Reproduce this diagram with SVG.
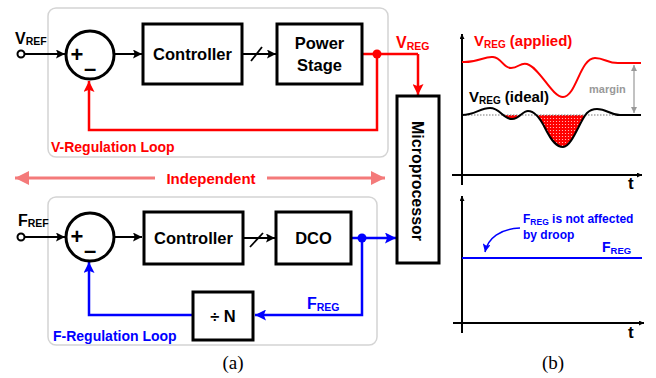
<svg xmlns="http://www.w3.org/2000/svg" width="656" height="378" viewBox="0 0 656 378">
<style>
  .t{font-family:"Liberation Sans",Arial,sans-serif;font-weight:bold}
  .box{fill:#fff;stroke:#000;stroke-width:3}
  .grp{fill:none;stroke:#d4d4d4;stroke-width:1.5}
  .blk{fill:none;stroke:#000;stroke-width:2}
  .red{fill:none;stroke:#ff0000;stroke-width:2.5}
  .blu{fill:none;stroke:#0000ff;stroke-width:2.5}
  .cap{font-family:"Liberation Serif","Times New Roman",serif;font-size:19px}
</style>
<defs>
  <marker id="aK" viewBox="0 0 10 10" refX="10" refY="5" markerWidth="5" markerHeight="5" orient="auto" markerUnits="userSpaceOnUse"><path d="M0,0 L10,5 L0,10 Z" fill="#000"/></marker>
  <marker id="aK2" viewBox="0 0 10 10" refX="10" refY="5" markerWidth="9" markerHeight="9" orient="auto" markerUnits="userSpaceOnUse"><path d="M0,0 L10,5 L0,10 L2,5 Z" fill="#000"/></marker>
  <marker id="aR" viewBox="0 0 10 10" refX="10" refY="5" markerWidth="11" markerHeight="11" orient="auto" markerUnits="userSpaceOnUse"><path d="M0,0 L10,5 L0,10 L2,5 Z" fill="#ff0000"/></marker>
  <marker id="aB" viewBox="0 0 10 10" refX="10" refY="5" markerWidth="11" markerHeight="11" orient="auto" markerUnits="userSpaceOnUse"><path d="M0,0 L10,5 L0,10 L2,5 Z" fill="#0000ff"/></marker>
  <marker id="aBs" viewBox="0 0 10 10" refX="10" refY="5" markerWidth="8" markerHeight="8" orient="auto" markerUnits="userSpaceOnUse"><path d="M0,0 L10,5 L0,10 L2,5 Z" fill="#0000ff"/></marker>
  <marker id="aG" viewBox="0 0 10 10" refX="10" refY="5" markerWidth="6" markerHeight="6" orient="auto-start-reverse" markerUnits="userSpaceOnUse"><path d="M0,0 L10,5 L0,10 Z" fill="#999"/></marker>
  <marker id="aP" viewBox="0 0 10 10" refX="10" refY="5" markerWidth="18" markerHeight="14" orient="auto-start-reverse" markerUnits="userSpaceOnUse"><path d="M0,0 L10,5 L0,10 Z" fill="#f47a7a"/></marker>
  <pattern id="dots" width="3" height="3" patternUnits="userSpaceOnUse">
    <rect width="3" height="3" fill="#ff0000"/>
    <circle cx="1.5" cy="1.5" r="0.6" fill="#ffd0d0"/>
  </pattern>
  <clipPath id="below"><rect x="462" y="115" width="180" height="40"/></clipPath>
</defs>

<!-- group boxes -->
<rect class="grp" x="48" y="8" width="340" height="149" rx="8"/>
<rect class="grp" x="48" y="197" width="329" height="148" rx="8"/>

<!-- connectors -->
<g id="connectors">
  <line class="blk" x1="24.5" y1="54" x2="65" y2="54" marker-end="url(#aK2)"/>
  <line class="blk" x1="114" y1="54" x2="142" y2="54" marker-end="url(#aK2)"/>
  <line class="blk" x1="242" y1="54" x2="276" y2="54" marker-end="url(#aK2)"/>
  <line x1="251" y1="61" x2="262" y2="47" stroke="#000" stroke-width="1.8"/>
  <line class="red" x1="362" y1="54" x2="418" y2="54"/>
  <line class="red" x1="418" y1="54" x2="418" y2="95" marker-end="url(#aR)"/>
  <polyline class="red" points="377,54 377,130 89,130 89,81" marker-end="url(#aR)"/>
  <circle cx="377" cy="54" r="4.5" fill="#ff0000"/>
  <line class="blk" x1="24.5" y1="237" x2="65" y2="237" marker-end="url(#aK2)"/>
  <line class="blk" x1="114" y1="237" x2="142" y2="237" marker-end="url(#aK2)"/>
  <line class="blk" x1="242" y1="238" x2="275" y2="238" marker-end="url(#aK2)"/>
  <line x1="250" y1="247" x2="263" y2="233" stroke="#000" stroke-width="1.8"/>
  <line class="blu" x1="351" y1="238" x2="396" y2="238" marker-end="url(#aB)"/>
  <polyline class="blu" points="397,230.5 408,238 397,245.5" stroke-linejoin="miter"/>
  <polyline class="blu" points="362,238 362,315 255,315" marker-end="url(#aB)"/>
  <polyline class="blu" points="193,315 89,315 89,262" marker-end="url(#aB)"/>
  <circle cx="362" cy="238" r="4.5" fill="#0000ff"/>
  <line x1="155" y1="178" x2="15" y2="178" stroke="#f47a7a" stroke-width="3" marker-end="url(#aP)"/>
  <line x1="267" y1="178" x2="385" y2="178" stroke="#f47a7a" stroke-width="3" marker-end="url(#aP)"/>
</g>

<!-- nodes -->
<g id="vref">
  <circle cx="21" cy="54" r="3.5" fill="#fff" stroke="#000" stroke-width="2"/>
  <text class="t" x="15" y="44" font-size="16">V<tspan font-size="10.5" dy="1">REF</tspan></text>
</g>
<g id="sum1">
  <circle cx="90" cy="55" r="24" fill="#fff" stroke="#000" stroke-width="3"/>
  <text class="t" x="77" y="62" font-size="22" text-anchor="middle">+</text>
  <text class="t" x="90" y="76" font-size="22" text-anchor="middle">–</text>
</g>
<g id="controller1">
  <rect class="box" x="143" y="24" width="99" height="60"/>
  <text class="t" x="192.5" y="60" font-size="16.5" text-anchor="middle">Controller</text>
</g>
<g id="powerstage">
  <rect class="box" x="277" y="24" width="85" height="60"/>
  <text class="t" x="319.5" y="49" font-size="16.5" text-anchor="middle">Power</text>
  <text class="t" x="319.5" y="71" font-size="16.5" text-anchor="middle">Stage</text>
</g>
<g id="vreg-label">
  <text class="t" x="396" y="48" font-size="16" fill="#ff0000">V<tspan font-size="10.5" dy="2">REG</tspan></text>
</g>
<g id="vloop-label">
  <text class="t" x="51" y="152" font-size="14" fill="#ff0000">V-Regulation Loop</text>
</g>
<g id="microprocessor">
  <rect class="box" x="397" y="96" width="42" height="167"/>
  <text class="t" transform="translate(412,181) rotate(90)" font-size="16" text-anchor="middle">Microprocessor</text>
</g>
<g id="independent">
  <text class="t" x="211" y="184" font-size="15" fill="#ff0000" text-anchor="middle">Independent</text>
</g>
<g id="fref">
  <circle cx="21" cy="237" r="3.5" fill="#fff" stroke="#000" stroke-width="2"/>
  <text class="t" x="18" y="226" font-size="16">F<tspan font-size="10.5" dy="1">REF</tspan></text>
</g>
<g id="sum2">
  <circle cx="90" cy="237" r="24" fill="#fff" stroke="#000" stroke-width="3"/>
  <text class="t" x="77" y="244" font-size="22" text-anchor="middle">+</text>
  <text class="t" x="90" y="258" font-size="22" text-anchor="middle">–</text>
</g>
<g id="controller2">
  <rect class="box" x="144" y="212" width="99" height="52"/>
  <text class="t" x="193.5" y="244" font-size="16.5" text-anchor="middle">Controller</text>
</g>
<g id="dco">
  <rect class="box" x="276" y="212" width="75" height="52"/>
  <text class="t" x="313.5" y="244" font-size="16.5" text-anchor="middle">DCO</text>
</g>
<g id="divn">
  <rect class="box" x="193" y="292" width="60" height="48"/>
  <text class="t" x="223" y="322" font-size="16.5" text-anchor="middle">÷ N</text>
</g>
<g id="freg-label">
  <text class="t" x="307" y="309" font-size="16" fill="#0000ff">F<tspan font-size="10.5" dy="2">REG</tspan></text>
</g>
<g id="floop-label">
  <text class="t" x="53" y="341" font-size="14" fill="#0000ff">F-Regulation Loop</text>
</g>
<text class="cap" x="233" y="369" text-anchor="middle">(a)</text>

<!-- graph (b) top -->
<g id="graph-top">
  <line class="blk" x1="462" y1="185" x2="462" y2="34" marker-end="url(#aK)"/>
  <line class="blk" x1="452" y1="175" x2="642" y2="175" marker-end="url(#aK)"/>
  <text class="t" x="628" y="189" font-size="17">t</text>
  <path d="M462,115 C475,115 480,108 490,108 C500,108 503,119 512,119 C520,119 522,111 528,111 C535,111 540,118 545,128 C552,142 557,147 563,147 C572,147 580,120 587,113 C590,110 593,109 597,109 C607,109 610,115 620,115 L641,115 Z" fill="url(#dots)" clip-path="url(#below)"/>
  <line x1="462" y1="115" x2="641" y2="115" stroke="#777" stroke-width="1" stroke-dasharray="1.5,1.5"/>
  <path d="M462,115 C475,115 480,108 490,108 C500,108 503,119 512,119 C520,119 522,111 528,111 C535,111 540,118 545,128 C552,142 557,147 563,147 C572,147 580,120 587,113 C590,110 593,109 597,109 C607,109 610,115 620,115 L641,115" fill="none" stroke="#000" stroke-width="2"/>
  <path d="M462,62 C478,63 484,56 493,57 C502,58 503,68 511,68 C519,68 520,62 527,64 C540,68 552,97 563,97 C576,97 580,58 595,58 C605,58 608,64 620,63 L641,63" fill="none" stroke="#ff0000" stroke-width="2"/>
  <line x1="634" y1="65" x2="634" y2="113" stroke="#999" stroke-width="1.2" marker-start="url(#aG)" marker-end="url(#aG)"/>
  <text class="t" x="589" y="93" font-size="11" fill="#999">margin</text>
  <text class="t" x="474" y="46" font-size="15" fill="#ff0000">V<tspan font-size="10" dy="2">REG</tspan><tspan dy="-2"> (applied)</tspan></text>
  <text class="t" x="469" y="102" font-size="15">V<tspan font-size="10" dy="2">REG</tspan><tspan dy="-2"> (ideal)</tspan></text>
</g>

<!-- graph (b) bottom -->
<g id="graph-bottom">
  <line class="blk" x1="462" y1="333" x2="462" y2="196" marker-end="url(#aK)"/>
  <line class="blk" x1="453" y1="323" x2="644" y2="323" marker-end="url(#aK)"/>
  <text class="t" x="628" y="338" font-size="17">t</text>
  <line x1="462" y1="258" x2="642" y2="258" stroke="#0000ff" stroke-width="2"/>
  <text class="t" x="602" y="252" font-size="14" fill="#0000ff">F<tspan font-size="9.5" dy="1.5">REG</tspan></text>
  <text class="t" x="523" y="223" font-size="12" fill="#0000ff">F<tspan font-size="8.5" dy="1.5">REG</tspan><tspan dy="-1.5"> is not affected</tspan></text>
  <text class="t" x="523" y="239" font-size="12" fill="#0000ff">by droop</text>
  <path d="M520,228 C500,229 488,238 485,252" fill="none" stroke="#0000ff" stroke-width="1.5" marker-end="url(#aBs)"/>
</g>
<text class="cap" x="553" y="369" text-anchor="middle">(b)</text>
</svg>
